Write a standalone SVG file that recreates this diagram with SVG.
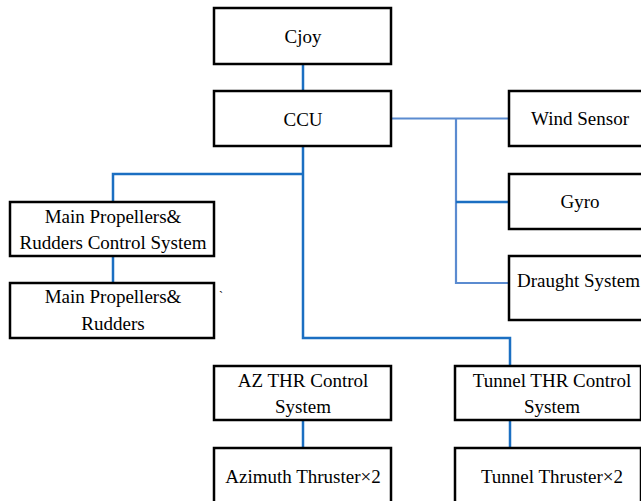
<svg xmlns="http://www.w3.org/2000/svg" width="641" height="501" viewBox="0 0 641 501">
<style>
.box{fill:#fff;stroke:#000;stroke-width:2.5}
.t{font-family:"Liberation Serif","Times New Roman",serif;font-size:19px;fill:#000;text-anchor:middle}
.c{fill:none;stroke:#1b6fc2;stroke-width:2.5}
.c2{fill:none;stroke:#5b8bd0;stroke-width:2.2}
</style>
<rect width="641" height="501" fill="#fff"/>
<g id="connectors">
<line class="c" x1="303" y1="64" x2="303" y2="91"/>
<polyline class="c" points="303,146 303,338 510,338 510,366"/>
<polyline class="c" points="303,174 113,174 113,202"/>
<line class="c" x1="113" y1="256" x2="113" y2="283"/>
<line class="c" x1="303" y1="420" x2="303" y2="448"/>
<line class="c" x1="510" y1="420" x2="510" y2="448"/>
<line class="c2" x1="391" y1="118.5" x2="509" y2="118.5"/>
<polyline class="c2" points="456,118.5 456,283 509,283"/>
<line class="c" x1="456" y1="202" x2="509" y2="202"/>
</g>
<g id="cjoy"><rect class="box" x="214" y="8" width="177" height="56"/><text class="t" x="303" y="43">Cjoy</text></g>
<g id="ccu"><rect class="box" x="214" y="91" width="177" height="55"/><text class="t" x="303" y="126">CCU</text></g>
<g id="wind"><rect class="box" x="509" y="91" width="145" height="55"/><text class="t" x="580" y="125">Wind Sensor</text></g>
<g id="gyro"><rect class="box" x="509" y="174" width="145" height="55"/><text class="t" x="580" y="208">Gyro</text></g>
<g id="draught"><rect class="box" x="509" y="256" width="145" height="64"/><text class="t" x="578.5" y="287">Draught System</text></g>
<g id="mprcs"><rect class="box" x="10" y="202" width="204" height="54"/><text class="t" x="113" y="223">Main Propellers&amp;</text><text class="t" x="113" y="249">Rudders Control System</text></g>
<g id="mpr"><rect class="box" x="10" y="283" width="204" height="55"/><text class="t" x="113" y="303">Main Propellers&amp;</text><text class="t" x="113" y="330">Rudders</text></g>
<text x="219" y="300" style="font-family:'Liberation Serif',serif;font-size:12px">`</text>
<g id="azctrl"><rect class="box" x="214" y="366" width="177" height="54"/><text class="t" x="303" y="387">AZ THR Control</text><text class="t" x="303" y="413">System</text></g>
<g id="tunnelctrl"><rect class="box" x="455" y="366" width="186" height="54"/><text class="t" x="552" y="387">Tunnel THR Control</text><text class="t" x="552" y="413">System</text></g>
<g id="azthr"><rect class="box" x="214" y="448" width="177" height="62"/><text class="t" x="303" y="483">Azimuth Thruster×2</text></g>
<g id="tunnelthr"><rect class="box" x="455" y="448" width="186" height="62"/><text class="t" x="552" y="483">Tunnel Thruster×2</text></g>
</svg>
